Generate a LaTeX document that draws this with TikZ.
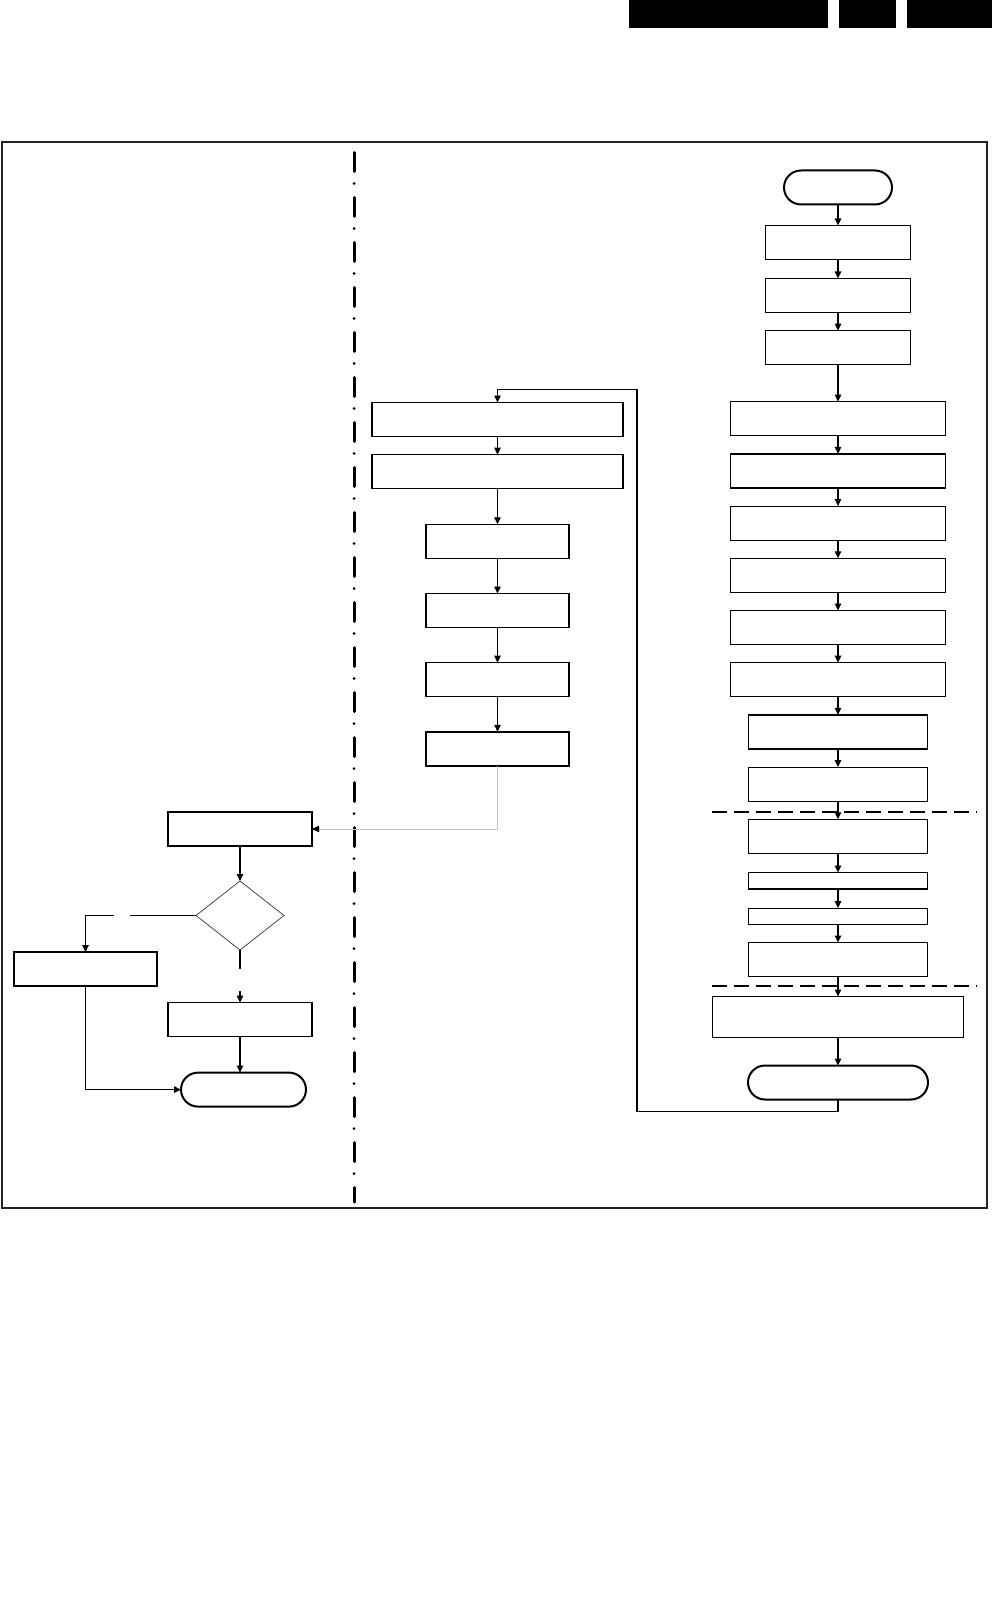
\documentclass[tikz,border=0pt]{standalone}
\usepackage{tikz}
\usetikzlibrary{shapes.geometric, arrows.meta, positioning, calc}
\definecolor{linegrey}{HTML}{C4C4C4}
\definecolor{framegrey}{HTML}{222222}

\begin{document}
\begin{tikzpicture}[
    x=0.5pt, y=-0.5pt,
    node distance=9.1pt,
    box/.style={rectangle, draw, line width=0.6pt, inner sep=0pt, outer sep=0pt,
                minimum width=#1, minimum height=17pt},
    box/.default=72.5pt,
    thinbox/.style={box=#1, minimum height=8.2pt},
    term/.style={rectangle, draw, line width=1pt, rounded corners=8.5pt,
                 inner sep=0pt, outer sep=0pt, minimum width=#1, minimum height=17pt},
    decision/.style={diamond, draw=black!80, line width=0.35pt, inner sep=0pt,
                     outer sep=0pt, minimum width=44pt, minimum height=34.5pt},
    arrow/.style={-{Triangle[length=3.5pt, width=3.2pt]}, line width=0.6pt},
    greyarrow/.style={-{Triangle[length=3.5pt, width=3.2pt, color=black]},
                      line width=0.5pt, draw=linegrey},
    divider/.style={line width=1.5pt, line cap=round,
                    dash pattern=on 9.5pt off 6pt on 0pt off 7pt},
    stagebreak/.style={line width=1pt, dash pattern=on 7.5pt off 3.5pt}
]
\useasboundingbox (0,0) rectangle (992,1599);

% Header bars
\fill (629,0) rectangle (828,28);
\fill (839,0) rectangle (896,28);
\fill (907,0) rectangle (992,28);

% Frame and divider
\draw[line width=1.4pt, framegrey] (2,142) rectangle (987,1208);
\draw[divider] (354,152.5) -- (354,1202);

% Right column
\node[term=54pt] (rstart) at (838,187.5) {};
\node[box, below=10.5pt of rstart] (r1) {};
\node[box, below=9.5pt of r1] (r2) {};
\node[box, below=of r2] (r3) {};
\node[box=107.5pt, below=18.5pt of r3] (r4) {};
\node[box=107.5pt, below=of r4] (r5) {};
\node[box=107.5pt, below=of r5] (r6) {};
\node[box=107.5pt, below=of r6] (r7) {};
\node[box=107.5pt, below=of r7] (r8) {};
\node[box=107.5pt, below=of r8] (r9) {};
\node[box=89.5pt, below=of r9] (r10) {};
\node[box=89.5pt, below=of r10] (r11) {};
\node[box=89.5pt, below=of r11] (r12) {};
\node[thinbox=89.5pt, below=9.6pt of r12] (r13) {};
\node[thinbox=89.5pt, below=9.6pt of r13] (r14) {};
\node[box=89.5pt, below=9pt of r14] (r15) {};
\node[box=125.5pt, minimum height=20.5pt, below=10pt of r15] (r16) {};
\node[term=90pt, below=14pt of r16] (rend) {};

\foreach \a/\b in {rstart/r1, r1/r2, r2/r3, r3/r4, r4/r5, r5/r6, r6/r7,
                   r7/r8, r8/r9, r9/r10, r10/r11, r11/r12, r12/r13,
                   r13/r14, r14/r15, r15/r16, r16/rend}
    \draw[arrow] (\a) -- (\b);

% Stage breaks
\draw[stagebreak] ($(r11.south)!.5!(r12.north)+(0,2)$) ++(-126,0) -- ++(265,0);
\draw[stagebreak] ($(r15.south)!.5!(r16.north)+(0,-1)$) ++(-126,0) -- ++(265,0);

% Middle column
\node[box=125.5pt] (m1) at (497.5,419.5) {};
\node[box=125.5pt, below=of m1] (m2) {};
\node[box=71.5pt, below=17.8pt of m2] (m3) {};
\node[box=71.5pt, below=17.6pt of m3] (m4) {};
\node[box=71.5pt, below=17.6pt of m4] (m5) {};
\node[box=71.5pt, below=17.6pt of m5] (m6) {};

\foreach \a/\b in {m1/m2, m2/m3, m3/m4, m4/m5, m5/m6}
    \draw[arrow] (\a) -- (\b);

\draw[arrow] (rend.south) -- ++(0,12) -| ($(m1.north east)+(14,-13)$) -| (m1.north);

% Left column
\node[box=72pt] (l1) at (240,829) {};
\node[decision, below=17.5pt of l1] (dec) {};
\node[box=72pt, below=26.3pt of dec] (l3) {};
\node[box=71.5pt] (l2) at (85.5,969) {};
\node[term=62.5pt, below=18pt of l3, xshift=1.75pt] (lend) {};

\draw[greyarrow] (m6.south) |- (l1.east);
\draw[arrow] (l1) -- (dec);
\draw[line width=0.6pt] (dec.west) -- ++(-66,0) coordinate (leftgap);
\draw[arrow] ($(leftgap)+(-16,0)$) -| (l2.north);
\draw[line width=0.6pt] (dec.south) -- ++(0,19) coordinate (downgap);
\draw[arrow] ($(downgap)+(0,22)$) -- (l3.north);
\draw[arrow] (l3.south) -- (l3.south |- lend.north);
\draw[arrow] (l2.south) |- (lend.west);

\end{tikzpicture}
\end{document}
